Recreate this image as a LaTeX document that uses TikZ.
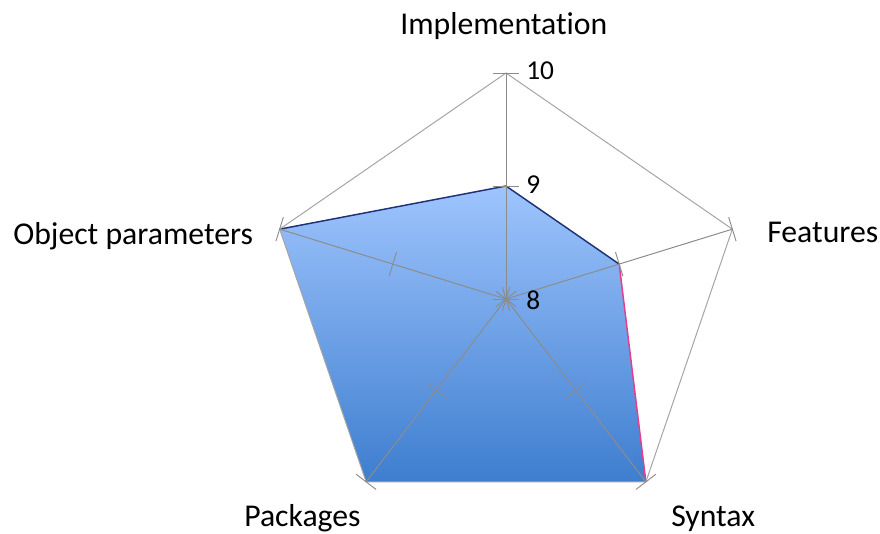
\documentclass[tikz,border=0pt]{standalone}
\usepackage{fontspec}
\setmainfont{Carlito}[RawFeature={-liga;-clig;-calt;-dlig}]
\usetikzlibrary{calc}
\definecolor{axisgray}{RGB}{140,140,140}
\definecolor{webgray}{RGB}{165,165,165}
\definecolor{filltop}{RGB}{158,196,253}
\definecolor{fillbot}{RGB}{62,126,207}
\definecolor{edgenavy}{RGB}{30,50,120}
\definecolor{edgepink}{RGB}{230,60,140}
\tikzset{
  axisline/.style={draw=axisgray, line width=0.75pt},
  webline/.style={draw=webgray, line width=0.75pt},
  tickline/.style={draw=axisgray, line width=0.7pt},
  catlabel/.style={anchor=base west, inner sep=0pt, font=\fontsize{23.8}{28}\selectfont},
  vallabel/.style={anchor=base west, inner sep=0pt, font=\fontsize{20.5}{24}\selectfont},
  dataedge/.style={line width=1.1pt, line cap=round},
}
\begin{document}
\begin{tikzpicture}[x=0.75pt,y=-0.75pt]
\useasboundingbox (0,0) rectangle (880,534);
% centre and outer (value 10) vertices
\coordinate (C) at (506,299);
\coordinate (I10) at (506,73);
\coordinate (F10) at (732.35,229.16);
\coordinate (S10) at (645.89,481.84);
\coordinate (P10) at (366.11,481.84);
\coordinate (O10) at (279.65,229.16);
% value 9 points
\coordinate (I9) at ($(C)!0.5!(I10)$);
\coordinate (F9) at ($(C)!0.5!(F10)$);
\coordinate (S9) at ($(C)!0.5!(S10)$);
\coordinate (P9) at ($(C)!0.5!(P10)$);
\coordinate (O9) at ($(C)!0.5!(O10)$);
% data polygon
\shade[top color=filltop, bottom color=fillbot] (O10) -- (I9) -- (F9) -- (S10) -- (P10) -- cycle;
\draw[dataedge, edgenavy] (O10) -- (I9) -- (F9);
\draw[dataedge, edgepink] (F9) -- (S10);
% web
\draw[webline] (I10) -- (F10) -- (S10) -- (P10) -- (O10) -- cycle;
% axes
\foreach \v in {I10,F10,S10,P10,O10}{
  \draw[axisline] (C) -- (\v);
}
% ticks
\foreach \v in {I,F,S,P,O}{
  \draw[tickline] ($(\v10)!9.4pt!90:(C)$) -- ($(\v10)!9.4pt!-90:(C)$);
  \draw[tickline] ($(\v9)!9.4pt!90:(C)$) -- ($(\v9)!9.4pt!-90:(C)$);
  \draw[tickline] ($(C)!9.4pt!90:(\v10)$) -- ($(C)!9.4pt!-90:(\v10)$);
}
% value labels
\node[vallabel] (v10) at (526,80) {10};
\node[vallabel] (v9) at (526,194) {9};
\node[vallabel] (v8) at (526,309) {8};
% category labels
\node[catlabel] (limpl) at (400,35) {Implementation};
\node[catlabel] (lfeat) at (767,242.5) {Features};
\node[catlabel] (lsyn) at (671,526.7) {Syntax};
\node[catlabel] (lpack) at (244,526.7) {Packages};
\node[catlabel] (lobj) at (13,245) {Object parameters};
\end{tikzpicture}
\end{document}
